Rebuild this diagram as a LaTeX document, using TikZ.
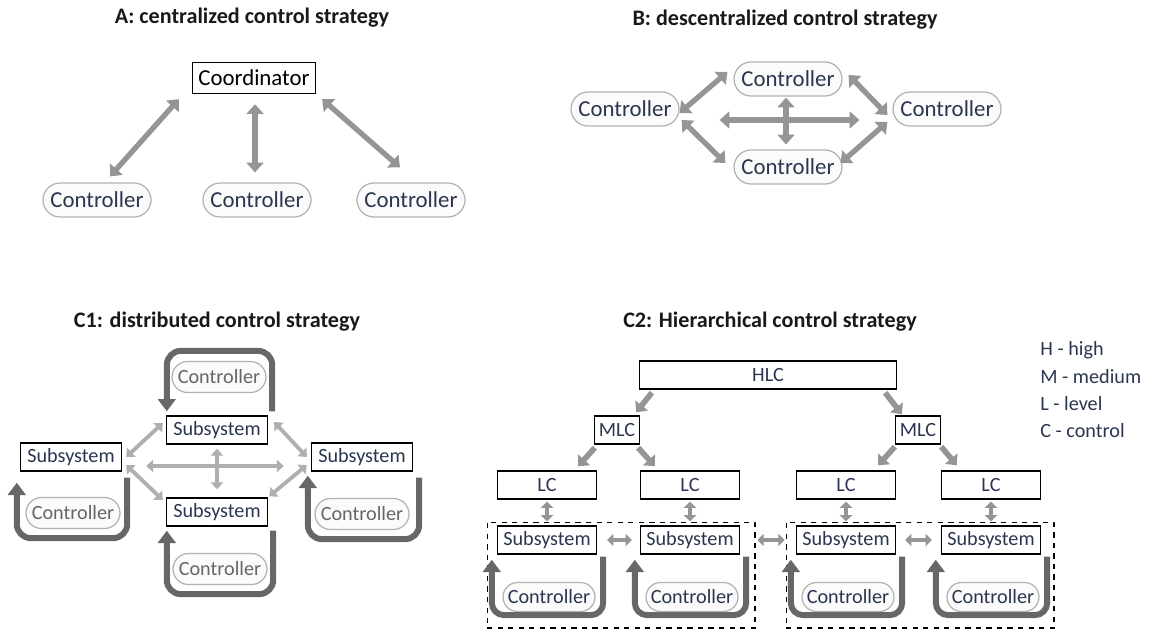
\documentclass[tikz,border=0pt]{standalone}
\usepackage{fontspec}
\setmainfont{Carlito}
\usetikzlibrary{calc,positioning,shapes.misc,arrows.meta}
\definecolor{txtblue}{HTML}{2A3650}
\definecolor{arrgray}{HTML}{959595}
\definecolor{loopgray}{HTML}{676767}
\tikzset{>=Triangle}
\tikzset{
  ctrl/.style={rounded rectangle, draw=black!30, fill=black!1.5, line width=0.7pt, text=txtblue, inner sep=0pt},
  ctrlA/.style={ctrl, minimum width=2.16cm, minimum height=0.68cm, font=\fontsize{13}{15}\selectfont},
  ctrlC/.style={ctrl, minimum width=1.88cm, minimum height=0.62cm, font=\fontsize{11.5}{13}\selectfont},
  ctrlH/.style={ctrl, minimum width=1.84cm, minimum height=0.58cm, font=\fontsize{11.5}{13}\selectfont},
  sbox/.style={draw=black, line width=0.8pt, text=txtblue, inner sep=0pt, minimum height=0.56cm, font=\fontsize{11.5}{13}\selectfont},
  ttl/.style={font=\bfseries\fontsize{12.6}{15}\selectfont, text=black!90},
  fat/.style={line width=3pt, draw=arrgray, {Triangle[length=5.5pt,width=9.5pt]}-{Triangle[length=5.5pt,width=9.5pt]}},
  slim/.style={line width=2.2pt, draw=arrgray!75, {Triangle[length=4pt,width=7pt]}-{Triangle[length=4pt,width=7pt]}},
  small/.style={line width=2.3pt, draw=arrgray, {Triangle[length=3.5pt,width=7pt]}-{Triangle[length=3.5pt,width=7pt]}},
  down/.style={line width=3.2pt, draw=arrgray, -{Triangle[length=5pt,width=9pt]}},
  loopar/.style={line width=3.4pt, draw=loopgray, rounded corners=8pt, -{Triangle[length=7pt,width=10pt]}},
  grp/.style={draw, dashed, line width=0.6pt, minimum width=5.36cm, minimum height=2.12cm},
  lgd/.style={anchor=west, inner sep=0pt, font=\fontsize{11.5}{13}\selectfont, text=txtblue}
}
\begin{document}
\begin{tikzpicture}[x=0.02cm, y=-0.02cm]
\useasboundingbox (0,0) rectangle (1151,630);

% A: centralized
\node[ttl] (tA) at (252,18) {A: centralized control strategy};
\node[sbox, text=black, minimum width=2.46cm, minimum height=0.62cm, font=\fontsize{13}{15}\selectfont] (co) at (254,78) {Coordinator};
\node[ctrlA] (a1) at (97,200) {Controller};
\node[ctrlA] (a2) at (257,200) {Controller};
\node[ctrlA] (a3) at (411,200) {Controller};
\draw[fat] ($(a1.north)+(13,-6)$) -- ($(co.south west)+(-13,5)$);
\draw[fat] ($(co.south)+(1,10)$) -- ($(a2.north)+(-2,-10)$);
\draw[fat] ($(co.south east)+(6,5)$) -- ($(a3.north)+(-11,-15)$);

% B: decentralized
\node[ttl] (tB) at (785,20) {B: descentralized control strategy};
\node[ctrlA] (bT) at (788,79) {Controller};
\node[ctrlA] (bL) at (625,109) {Controller};
\node[ctrlA] (bR) at (947,109) {Controller};
\node[ctrlA] (bB) at (788,167) {Controller};
\draw[fat] ($(bL.east)+(0,4)$) -- ($(bT.west)+(-6,-7)$);
\draw[fat] ($(bL.east)+(2,11)$) -- ($(bB.west)+(-8,-4)$);
\draw[fat] ($(bT.east)+(6,-4)$) -- ($(bR.west)+(-5,6)$);
\draw[fat] ($(bB.east)+(-2,-4)$) -- ($(bR.west)+(-5,13)$);
\draw[fat] ($(bL.east)+(40,11)$) -- ($(bR.west)+(-33,11)$);
\draw[fat] ($(bT.south)+(-2,1)$) -- ($(bB.north)+(-2,-5)$);

% C1: distributed
\node[ttl] (tC1) at (217,322) {C1: distributed control strategy};
\node[sbox, minimum width=2.02cm] (sT) at (217,430) {Subsystem};
\node[sbox, minimum width=2.02cm] (sL) at (71,457) {Subsystem};
\node[sbox, minimum width=2.02cm] (sR) at (362,457) {Subsystem};
\node[sbox, minimum width=2.02cm] (sB) at (217,512) {Subsystem};
\node[ctrlC, text=black!60] (cT) at (219,377) {Controller};
\node[ctrlC, text=black!60] (cL) at (73,513) {Controller};
\node[ctrlC, text=black!60] (cR) at (362,514) {Controller};
\node[ctrlC, text=black!60] (cB) at (220,569) {Controller};
\draw[slim] ($(sL.east)+(4,0)$) -- ($(sT.west)+(-3,-7)$);
\draw[slim] ($(sL.east)+(4,8)$) -- ($(sB.west)+(-3,-12)$);
\draw[slim] ($(sT.east)+(6,-8)$) -- ($(sR.west)+(-4,0)$);
\draw[slim] ($(sB.north east)+(1,-1)$) -- ($(sR.west)+(-4,8)$);
\draw[slim] ($(sL.east)+(24,9)$) -- ($(sR.west)+(-27,9)$);
\draw[slim] ($(sT.south)+(0,4)$) -- ($(sB.north)+(0,-8)$);
\draw[loopar] ($(sT.north east)+(4,-4)$) |- ($(cT.north)+(0,-10)$) -| ($(sT.north west)+(1,-4)$);
\draw[loopar] ($(sL.south east)+(5,6)$) |- ($(cL.south)+(0,9)$) -| ($(sL.south west)+(-3,11)$);
\draw[loopar] ($(sR.south east)+(6,6)$) |- ($(cR.south)+(0,9)$) -| ($(sR.south west)+(-3,4)$);
\draw[loopar] ($(sB.south east)+(5,4)$) |- ($(cB.south)+(0,9)$) -| ($(sB.south west)+(1,4)$);

% C2: hierarchical
\node[ttl] (tC2) at (770,322) {C2: Hierarchical control strategy};
\node[sbox, minimum width=5.14cm] (hlc) at (768,375) {HLC};
\node[sbox, minimum width=0.9cm] (mlcl) at (617,430) {MLC};
\node[sbox, minimum width=0.9cm] (mlcr) at (918,430) {MLC};
\node[sbox, minimum width=1.98cm] (lc1) at (547,485) {LC};
\node[sbox, minimum width=1.98cm] (lc2) at (690,485) {LC};
\node[sbox, minimum width=1.98cm] (lc3) at (846,485) {LC};
\node[sbox, minimum width=1.98cm] (lc4) at (991,485) {LC};
\node[grp] (g1) at (621,575) {};
\node[grp] (g2) at (920,575) {};
\node[sbox, minimum width=1.98cm] (h1) at (547,540) {Subsystem};
\node[sbox, minimum width=1.98cm] (h2) at (690,540) {Subsystem};
\node[sbox, minimum width=1.98cm] (h3) at (846,540) {Subsystem};
\node[sbox, minimum width=1.98cm] (h4) at (991,540) {Subsystem};
\node[ctrlH] (k1) at (549,597) {Controller};
\node[ctrlH] (k2) at (692,597) {Controller};
\node[ctrlH] (k3) at (848,597) {Controller};
\node[ctrlH] (k4) at (993,597) {Controller};
\draw[down] ($(hlc.south west)+(13,3)$) -- ($(mlcl.north east)+(-4,-3)$);
\draw[down] ($(hlc.south east)+(-12,3)$) -- ($(mlcr.north west)+(7,-1)$);
\draw[down] ($(mlcl.south west)+(1,3)$) -- ($(lc1.north east)+(-19,-4)$);
\draw[down] ($(mlcl.south east)+(-2,3)$) -- ($(lc2.north west)+(15,-4)$);
\draw[down] ($(mlcr.south west)+(0,2)$) -- ($(lc3.north east)+(-18,-5)$);
\draw[down] ($(mlcr.south east)+(0,2)$) -- ($(lc4.north west)+(16,-5)$);
\foreach \i in {1,...,4}{
  \draw[small] ($(lc\i.south)+(0,2)$) -- ($(h\i.north)+(0,-4)$);
  \draw[loopar, rounded corners=7pt] ($(h\i.south east)+(6,2)$) |- ($(k\i.south)+(0,3)$) -| ($(h\i.south west)+(-5,5)$);
}
\draw[small] ($(h1.east)+(10,0)$) -- ($(h2.west)+(-8,0)$);
\draw[small] ($(h3.east)+(9,0)$) -- ($(h4.west)+(-9,0)$);
\draw[small] ($(g1.east |- h2)+(2,0)$) -- ($(g2.west |- h3)+(-1,0)$);

% legend
\node[lgd] (l1) at (1040,350) {H - high};
\node[lgd] (l2) at (1040,377) {M - medium};
\node[lgd] (l3) at (1040,404) {L - level};
\node[lgd] (l4) at (1040,431) {C - control};
\end{tikzpicture}
\end{document}
